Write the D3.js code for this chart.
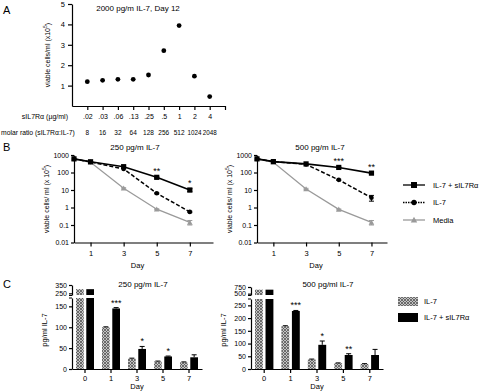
<!doctype html>
<meta charset="utf-8">
<title>sIL7Ra figure</title>
<style>
  body { margin: 0; background: #fff; }
  text { font-family: "Liberation Sans", Arial, sans-serif; fill: #000; }
</style>
<body>
<script src="https://d3js.org/d3.v7.min.js"></script>
<script>

// ---- panel A data
var doseLabels = [".02", ".03", ".06", ".13", ".25", ".5", "1", "2", "4"];
var molarRatio = ["8", "16", "32", "64", "128", "256", "512", "1024", "2048"];
var cellsDay12 = [1.19, 1.26, 1.31, 1.31, 1.52, 2.71, 3.94, 1.46, 0.46];

// ---- panel B data (viable cells/ml x10^5)
var daysB = [0, 1, 3, 5, 7];
var b250Combo = [600, 410, 215, 53, 10];
var b250ComboErr = [0, 0, 0, 4, 2];
var b250Il7 = [600, 400, 160, 6.5, 0.56];
var b250Il7Err = [0, 0, 0, 0.5, 0.05];
var b250Media = [600, 380, 12.5, 0.8, 0.14];
var b250MediaErr = [0, 0, 1, 0.05, 0.04];
var b250Stars = ["", "", "", "**", "*"];

var b500Combo = [600, 420, 310, 195, 92];
var b500ComboErr = [0, 0, 0, 10, 5];
var b500Il7 = [600, 420, 290, 38, 3.6];
var b500Il7Err = [0, 0, 0, 3, 1.3];
var b500Media = [600, 380, 11.5, 0.78, 0.14];
var b500MediaErr = [0, 0, 1, 0.05, 0.04];
var b500Stars = ["", "", "", "***", "**"];

// ---- panel C data (pg/ml IL-7)
var daysC = ["0", "1", "3", "5", "7"];
var c250Il7 = [300, 100, 25, 18, 16];
var c250Il7Err = [0, 1, 1, 1, 1];
var c250Combo = [300, 145, 48, 30, 28];
var c250ComboErr = [0, 2, 6, 1, 6];
var c250Stars = ["", "***", "*", "*", ""];

var c500Il7 = [650, 168, 37, 23, 20];
var c500Il7Err = [0, 2, 2, 1, 1];
var c500Combo = [650, 228, 95, 55, 55];
var c500ComboErr = [0, 2, 15, 5, 22];
var c500Stars = ["", "***", "*", "**", ""];

var grey = "#9a9a9a";

var svg = d3.select("body").append("svg")
    .attr("width", 481)
    .attr("height", 392);

var defs = svg.append("defs");
var pat = defs.append("pattern")
    .attr("id", "hatch")
    .attr("patternUnits", "userSpaceOnUse")
    .attr("width", 3)
    .attr("height", 3);
pat.append("rect").attr("width", 3).attr("height", 3).attr("fill", "#c4c4c4");
pat.append("path").attr("d", "M0,0L3,3M3,0L0,3").attr("stroke", "#555").attr("stroke-width", 0.8);

function styleAxis(g, fs) {
    g.selectAll("path, line").attr("stroke", "#000").attr("stroke-width", 1.2);
    g.selectAll("text").attr("font-size", fs || 7).attr("font-family", "Liberation Sans, Arial, sans-serif");
}

function panelLetter(t, x, y) {
    svg.append("text").attr("x", x).attr("y", y).text(t).attr("font-size", 11);
}

function addText(t, x, y, fs, anchor) {
    return svg.append("text").attr("x", x).attr("y", y).text(t)
        .attr("font-size", fs).attr("text-anchor", anchor || "middle");
}

function yLabel(t, x, y, fs) {
    return svg.append("text")
        .attr("transform", "translate(" + x + "," + y + ") rotate(-90)")
        .attr("text-anchor", "middle")
        .attr("font-size", fs)
        .text(t);
}

function supLabel(t) {
    // "text (x10^5)" style label
    return function(sel) {
        sel.append("tspan").text(t);
        sel.append("tspan").text("5").attr("font-size", 5).attr("dy", -3);
        sel.append("tspan").text(")").attr("dy", 3);
    };
}

// ================= PANEL A =================
panelLetter("A", 3, 14);

var xA = d3.scaleLinear().domain([0, 10]).range([72, 225]);
var yA = d3.scaleLinear().domain([0, 5]).range([106, 4]);

var axA = svg.append("g").attr("transform", "translate(72,0)")
    .call(d3.axisLeft(yA).tickValues([1, 2, 3, 4, 5]).tickFormat(d3.format("d"))
        .tickSize(4).tickSizeOuter(0).tickPadding(3));
styleAxis(axA, 7.5);

var axAx = svg.append("g").attr("transform", "translate(0,106)")
    .call(d3.axisBottom(xA).tickValues([1, 2, 3, 4, 5, 6, 7, 8, 9, 10])
        .tickFormat(function(d) { return d <= 9 ? doseLabels[d - 1] : ""; })
        .tickSize(4).tickSizeOuter(0).tickPadding(4));
styleAxis(axAx, 7);

addText("sIL7R\u03b1 (\u00b5g/ml)", 68, 119, 7, "end");
addText("molar ratio (sIL7R\u03b1:IL-7)", 1, 135, 6.8, "start");
svg.append("g").selectAll("text").data(molarRatio).enter().append("text")
    .attr("x", function(d, i) { return xA(i + 1); })
    .attr("y", 135)
    .attr("text-anchor", "middle")
    .attr("font-size", 6.5)
    .attr("textLength", function(d) { return d.length > 3 ? 14 : null; })
    .attr("lengthAdjust", "spacingAndGlyphs")
    .text(function(d) { return d; });

svg.append("g").selectAll("circle").data(cellsDay12).enter().append("circle")
    .attr("cx", function(d, i) { return xA(i + 1); })
    .attr("cy", function(d) { return yA(d); })
    .attr("r", 2.4)
    .attr("fill", "#000");

addText("2000 pg/m IL-7, Day 12", 138, 11, 8);
yLabel("", 50, 55, 7).call(supLabel("viable cells/ml (x10"));

// ================= PANEL B =================
panelLetter("B", 3, 151);

function drawMarker(g, type, cx, cy, color, k) {
    if (type === "sq") {
        g.append("rect").attr("x", cx - 2.6 * k).attr("y", cy - 2.6 * k)
            .attr("width", 5.2 * k).attr("height", 5.2 * k).attr("fill", color);
    } else if (type === "circ") {
        g.append("circle").attr("cx", cx).attr("cy", cy).attr("r", 2.3 * k).attr("fill", color);
    } else {
        var s = 2.8 * k;
        g.append("path")
            .attr("d", "M" + cx + "," + (cy - s) + "L" + (cx + s) + "," + (cy + s * 0.8) + "L" + (cx - s) + "," + (cy + s * 0.8) + "Z")
            .attr("fill", color);
    }
}

function lineChart(opt) {
    var x = d3.scaleLinear().domain([0, opt.xmax]).range([opt.x0, opt.x1]);
    var y = d3.scaleLog().domain([0.01, 1000]).range([242.5, 155]);

    var ay = svg.append("g").attr("transform", "translate(" + opt.x0 + ",0)")
        .call(d3.axisLeft(y).tickValues([0.01, 0.1, 1, 10, 100, 1000])
            .tickFormat(function(d) { return String(d); })
            .tickSize(3).tickSizeOuter(0).tickPadding(2));
    styleAxis(ay, 7);
    var ax = svg.append("g").attr("transform", "translate(0,242.5)")
        .call(d3.axisBottom(x).tickValues([1, 3, 5, 7]).tickSize(4).tickSizeOuter(0).tickPadding(4));
    styleAxis(ax, 7.5);

    var line = d3.line().x(function(d, i) { return x(daysB[i]); }).y(function(d) { return y(d); });

    var series = [
        { v: opt.media, e: opt.mediaErr, color: grey, dash: null, w: 1.3, mk: "tri" },
        { v: opt.il7, e: opt.il7Err, color: "#000", dash: "4,2", w: 1.5, mk: "circ" },
        { v: opt.combo, e: opt.comboErr, color: "#000", dash: null, w: 1.6, mk: "sq" }
    ];
    series.forEach(function(s) {
        var g = svg.append("g");
        g.append("path").datum(s.v).attr("d", line)
            .attr("fill", "none").attr("stroke", s.color)
            .attr("stroke-width", s.w).attr("stroke-dasharray", s.dash);
        s.v.forEach(function(d, i) {
            var cx = x(daysB[i]);
            if (s.e[i] > 0) {
                var hi = y(d + s.e[i]), lo = y(Math.max(d - s.e[i], 0.011));
                g.append("line").attr("x1", cx).attr("x2", cx).attr("y1", hi).attr("y2", lo)
                    .attr("stroke", s.color).attr("stroke-width", 1);
                [hi, lo].forEach(function(yy) {
                    g.append("line").attr("x1", cx - 2.5).attr("x2", cx + 2.5).attr("y1", yy).attr("y2", yy)
                        .attr("stroke", s.color).attr("stroke-width", 1);
                });
            }
            drawMarker(g, s.mk, cx, y(d), s.color, 1);
        });
    });

    svg.append("g").selectAll("text").data(opt.stars).enter().append("text")
        .attr("x", function(d, i) { return x(daysB[i]); })
        .attr("y", function(d, i) { return y(opt.combo[i] + opt.comboErr[i]) - 3; })
        .attr("text-anchor", "middle")
        .attr("font-size", 9)
        .text(function(d) { return d; });

    addText(opt.title, opt.titleX, 150, 8);
    addText("Day", (opt.x0 + opt.x1) / 2 - 6, 268, 7.5);
    yLabel("", opt.x0 - 25, 199, 7).call(supLabel("viable cells/ ml (x 10"));
}

lineChart({ x0: 74, x1: 213, xmax: 8.4, combo: b250Combo, comboErr: b250ComboErr,
    il7: b250Il7, il7Err: b250Il7Err, media: b250Media, mediaErr: b250MediaErr,
    stars: b250Stars, title: "250 pg/m IL-7", titleX: 135 });
lineChart({ x0: 257, x1: 387, xmax: 7.95, combo: b500Combo, comboErr: b500ComboErr,
    il7: b500Il7, il7Err: b500Il7Err, media: b500Media, mediaErr: b500MediaErr,
    stars: b500Stars, title: "500 pg/m IL-7", titleX: 320 });

// legend B
var legB = [
    { name: "IL-7 + sIL7R\u03b1", mk: "sq", color: "#000", dash: null },
    { name: "IL-7", mk: "circ", color: "#000", dash: "1.5,1" },
    { name: "Media", mk: "tri", color: grey, dash: null }
];
legB.forEach(function(d, i) {
    var yy = 185 + i * 17.5;
    var g = svg.append("g");
    g.append("line").attr("x1", 403).attr("x2", 425).attr("y1", yy).attr("y2", yy)
        .attr("stroke", d.color).attr("stroke-width", 1.3).attr("stroke-dasharray", d.dash);
    drawMarker(g, d.mk, 414, yy, d.color, 1.15);
    addText(d.name, 433, yy + 2.5, 7.5, "start");
});

// ================= PANEL C =================
panelLetter("C", 3, 288);

function barChart(opt) {
    var x = d3.scaleBand().domain(daysC).range([opt.x0, opt.x1]);
    var xs = d3.scaleBand().domain(["il7", "combo"]).range([4, x.bandwidth() - 4]).paddingInner(0.25);
    var yLo = d3.scaleLinear().domain([0, opt.loMax]).range([369, opt.loTop]);
    var yHi = d3.scaleLinear().domain([opt.hiMin, opt.hiMax]).range([295, opt.hiTop]);

    var ay = svg.append("g").attr("transform", "translate(" + opt.x0 + ",0)")
        .call(d3.axisLeft(yLo).tickValues(opt.loTicks).tickSize(3).tickSizeOuter(0).tickPadding(2));
    styleAxis(ay, 7);
    var ay2 = svg.append("g").attr("transform", "translate(" + opt.x0 + ",0)")
        .call(d3.axisLeft(yHi).tickValues(opt.hiTicks).tickSize(3).tickSizeOuter(0).tickPadding(2));
    styleAxis(ay2, 7);
    // axis break mark
    svg.append("path")
        .attr("d", "M" + (opt.x0 - 3) + ",295.5L" + opt.x0 + ",295.5M" + (opt.x0 - 3) + "," + opt.loTop + "L" + opt.x0 + "," + opt.loTop)
        .attr("stroke", "#000").attr("stroke-width", 1.2);

    var ax = svg.append("g").attr("transform", "translate(0,369)")
        .call(d3.axisBottom(x).tickSize(4).tickSizeOuter(0).tickPadding(3));
    styleAxis(ax, 7.5);

    var series = [
        { key: "il7", v: opt.il7, e: opt.il7Err, fill: "url(#hatch)" },
        { key: "combo", v: opt.combo, e: opt.comboErr, fill: "#000" }
    ];
    series.forEach(function(s) {
        var g = svg.append("g");
        s.v.forEach(function(d, i) {
            var bx = x(daysC[i]) + xs(s.key), bw = xs.bandwidth();
            if (d > opt.loMax) {
                g.append("rect").attr("x", bx).attr("width", bw)
                    .attr("y", yLo(opt.loMax)).attr("height", 369 - yLo(opt.loMax)).attr("fill", s.fill);
                g.append("rect").attr("x", bx).attr("width", bw)
                    .attr("y", yHi(d)).attr("height", 295 - yHi(d)).attr("fill", s.fill);
            } else {
                g.append("rect").attr("x", bx).attr("width", bw)
                    .attr("y", yLo(d)).attr("height", 369 - yLo(d)).attr("fill", s.fill);
            }
            if (s.e[i] > 0) {
                var cx = bx + bw / 2, hi = yLo(d + s.e[i]);
                g.append("line").attr("x1", cx).attr("x2", cx).attr("y1", hi).attr("y2", yLo(d))
                    .attr("stroke", "#000").attr("stroke-width", 1);
                g.append("line").attr("x1", cx - 2.5).attr("x2", cx + 2.5).attr("y1", hi).attr("y2", hi)
                    .attr("stroke", "#000").attr("stroke-width", 1);
            }
        });
    });

    svg.append("g").selectAll("text").data(opt.stars).enter().append("text")
        .attr("x", function(d, i) { return x(daysC[i]) + xs("combo") + xs.bandwidth() / 2; })
        .attr("y", function(d, i) { return yLo(opt.combo[i] + opt.comboErr[i]) - 2; })
        .attr("text-anchor", "middle")
        .attr("font-size", 9)
        .text(function(d) { return d; });

    addText(opt.title, opt.titleX, 287, 8);
    addText("Day", (opt.x0 + opt.x1) / 2, 389, 7.5);
    yLabel("pg/ml IL-7", opt.x0 - 25, 330, 7.5);
}

barChart({ x0: 72, x1: 202, loMax: 170, loTop: 298, hiMin: 230, hiMax: 350, hiTop: 285,
    loTicks: [0, 50, 100, 150], hiTicks: [250, 350],
    il7: c250Il7, il7Err: c250Il7Err, combo: c250Combo, comboErr: c250ComboErr,
    stars: c250Stars, title: "250 pg/m IL-7", titleX: 143 });
barChart({ x0: 251, x1: 383, loMax: 275, loTop: 299, hiMin: 450, hiMax: 750, hiTop: 287,
    loTicks: [0, 50, 100, 150, 200, 250], hiTicks: [500, 750],
    il7: c500Il7, il7Err: c500Il7Err, combo: c500Combo, comboErr: c500ComboErr,
    stars: c500Stars, title: "500 pg/ml IL-7", titleX: 328 });

// legend C
var legC = [
    { name: "IL-7", fill: "url(#hatch)" },
    { name: "IL-7 + sIL7R\u03b1", fill: "#000" }
];
legC.forEach(function(d, i) {
    var yy = 297 + i * 16;
    svg.append("rect").attr("x", 398).attr("y", yy).attr("width", 20).attr("height", 9).attr("fill", d.fill);
    addText(d.name, 424, yy + 7, 7.5, "start");
});

</script>
</body>
